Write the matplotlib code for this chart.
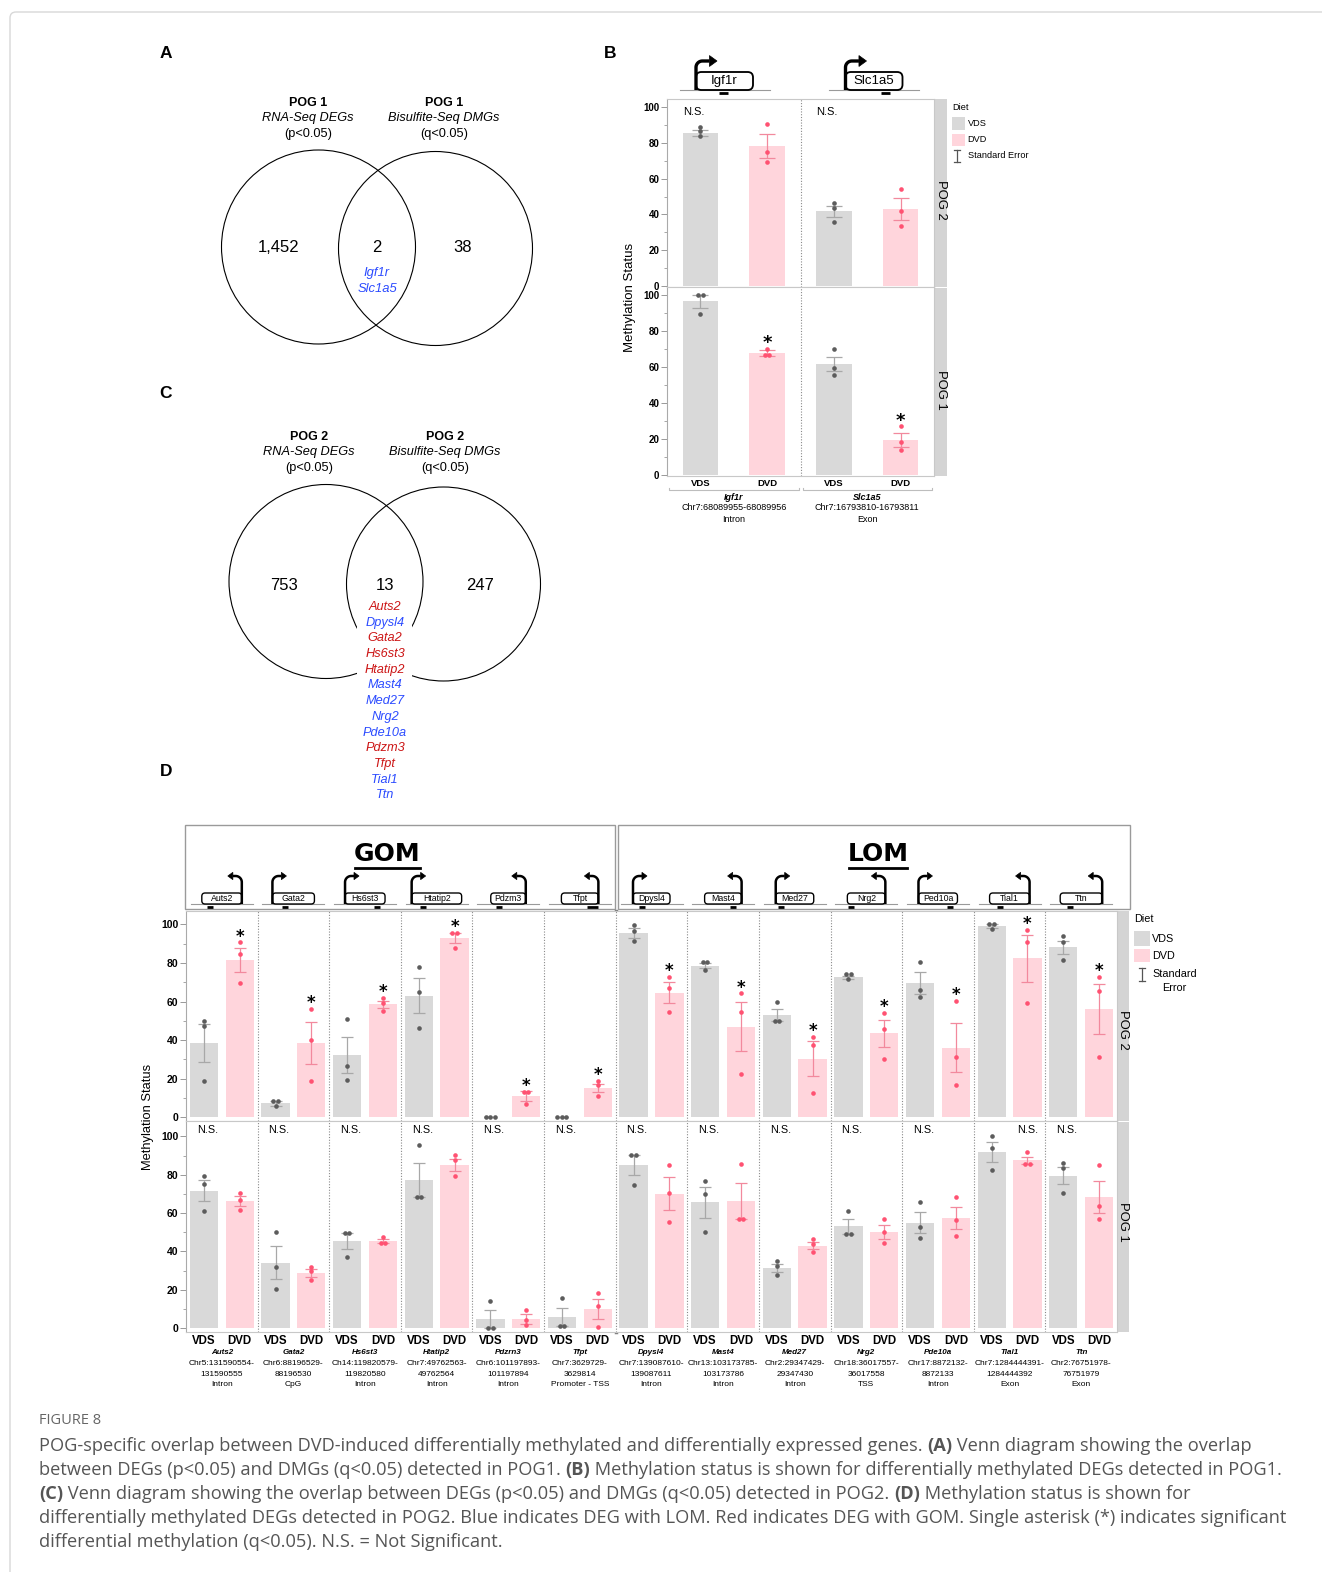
import numpy as np
import matplotlib
matplotlib.use("Agg")
import matplotlib.pyplot as plt
from matplotlib.patches import Circle, Rectangle, FancyBboxPatch, Polygon

plt.rcParams["font.family"] = ["Liberation Sans", "DejaVu Sans"]

W, H = 1322, 1572
GRAY_BAR = "#d9d9d9"
PINK_BAR = "#ffd5dc"
GRAY_PT = "#5c5c5c"
PINK_PT = "#ff5272"
GRAY_SE = "#a8a8a8"
PINK_SE = "#f2899d"
RED = "#cc1515"
BLUE = "#2b4bff"

# ---------------- data ----------------
venn_a_counts = ["1,452", "2", "38"]
venn_a_genes = ["Igf1r", "Slc1a5"]
venn_a_cls = ["LOM", "LOM"]
venn_c_counts = ["753", "13", "247"]
venn_c_genes = ["Auts2", "Dpysl4", "Gata2", "Hs6st3", "Htatip2", "Mast4", "Med27",
                "Nrg2", "Pde10a", "Pdzm3", "Tfpt", "Tial1", "Ttn"]
venn_c_cls = ["GOM", "LOM", "GOM", "GOM", "GOM", "LOM", "LOM",
              "LOM", "LOM", "GOM", "GOM", "LOM", "LOM"]

# panel B (POG1 DEGs)
b_genes = ["Igf1r", "Slc1a5"]
b_loci = ["Chr7:68089955-68089956", "Chr7:16793810-16793811"]
b_regions = ["Intron", "Exon"]
b_pog2_vds = [85.6, 41.8]
b_pog2_vds_se = [1.8, 3.1]
b_pog2_vds_pts = [[88.6, 86.4, 83.8], [46.2, 43.8, 35.9]]
b_pog2_dvd = [78.3, 43.1]
b_pog2_dvd_se = [6.5, 6.1]
b_pog2_dvd_pts = [[90.8, 75.1, 69.4], [54.1, 42.2, 33.5]]
b_pog2_sig = [False, False]
b_pog1_vds = [96.5, 61.7]
b_pog1_vds_se = [3.6, 4.0]
b_pog1_vds_pts = [[100, 100, 89.6], [69.8, 59.7, 55.6]]
b_pog1_dvd = [67.8, 19.7]
b_pog1_dvd_se = [1.5, 3.9]
b_pog1_dvd_pts = [[70.2, 66.7, 66.7], [27.0, 18.4, 13.8]]
b_pog1_sig = [True, True]

# panel D (POG2 DEGs)
d_genes = ["Auts2", "Gata2", "Hs6st3", "Htatip2", "Pdzrn3", "Tfpt",
           "Dpysl4", "Mast4", "Med27", "Nrg2", "Pde10a", "Tial1", "Ttn"]
d_header = ["Auts2", "Gata2", "Hs6st3", "Htatip2", "Pdzm3", "Tfpt",
            "Dpysl4", "Mast4", "Med27", "Nrg2", "Ped10a", "Tial1", "Ttn"]
d_strand = [-1, 1, 1, 1, -1, -1, 1, -1, 1, -1, 1, -1, -1]
d_loci1 = ["Chr5:131590554-", "Chr6:88196529-", "Ch14:119820579-", "Chr7:49762563-",
           "Chr6:101197893-", "Chr7:3629729-", "Chr7:139087610-", "Chr13:103173785-",
           "Chr2:29347429-", "Chr18:36017557-", "Chr17:8872132-", "Chr7:1284444391-",
           "Chr2:76751978-"]
d_loci2 = ["131590555", "88196530", "119820580", "49762564", "101197894", "3629814",
           "139087611", "103173786", "29347430", "36017558", "8872133", "1284444392",
           "76751979"]
d_regions = ["Intron", "CpG", "Intron", "Intron", "Intron", "Promoter - TSS",
             "Intron", "Intron", "Intron", "TSS", "Intron", "Exon", "Exon"]
d_site = [0.2, 0.29, 0.8, 0.22, 0.23, 0.85, 0.24, 0.77, 0.13, 0.09, 0.81, 0.26, 0.24]

d_pog2_vds = [38.4, 7.3, 32.3, 63.0, 0.2, 0.3, 95.8, 78.6, 53.0, 72.5, 69.6, 99.1, 88.2]
d_pog2_vds_se = [10.0, 1.3, 9.5, 9.2, 0, 0, 2.6, 1.2, 3.3, 1.0, 5.5, 1.0, 3.3]
d_pog2_vds_pts = [[50.1, 47.1, 18.8], [8.5, 8.5, 5.6], [51.1, 26.3, 19.5],
                  [77.9, 64.7, 46.3], [0, 0, 0], [0.3, 0.3, 0.3],
                  [99.9, 96.7, 91.3], [80.3, 80.3, 76.2], [59.8, 49.7, 49.7],
                  [74.1, 74.1, 71.7], [80.3, 66.1, 62.6], [100, 100, 97.4],
                  [93.9, 91.1, 81.4]]
d_pog2_dvd = [81.7, 38.4, 58.6, 92.9, 11.0, 15.1, 64.5, 47.0, 30.3, 43.5, 36.0, 82.4, 56.3]
d_pog2_dvd_se = [6.3, 10.9, 1.9, 2.6, 2.4, 2.3, 5.4, 12.9, 9.2, 7.0, 12.7, 12.0, 13.0]
d_pog2_dvd_pts = [[90.8, 84.9, 69.6], [56.3, 40.2, 18.8], [61.9, 59.1, 55.3],
                  [95.7, 95.7, 88.0], [13.2, 13.2, 7.0], [18.8, 16.5, 11.0],
                  [72.7, 67.0, 54.4], [64.2, 54.8, 22.3], [41.6, 37.4, 12.3],
                  [54.3, 45.9, 30.4], [60.2, 31.0, 16.7], [97.2, 91.1, 59.0],
                  [73.0, 65.6, 31.0]]
d_pog2_sig = [True] * 13

d_pog1_vds = [71.7, 34.1, 45.4, 77.2, 4.9, 5.7, 84.9, 65.6, 31.3, 53.1, 55.0, 92.0, 79.5]
d_pog1_vds_se = [5.5, 8.7, 4.2, 8.7, 4.7, 4.8, 5.3, 8.1, 1.9, 3.8, 5.4, 5.3, 4.5]
d_pog1_vds_pts = [[79.5, 75.3, 60.9], [50.3, 32.0, 20.2], [49.8, 49.8, 37.1],
                  [95.3, 68.5, 68.5], [14.4, 0, 0], [15.5, 0.9, 0.9],
                  [90.5, 90.5, 74.5], [76.9, 69.8, 50.3], [34.8, 32.2, 27.8],
                  [61.2, 49.2, 49.2], [65.8, 52.5, 47.1], [100, 93.9, 82.5],
                  [86.1, 83.7, 70.6]]
d_pog1_dvd = [66.3, 28.7, 45.4, 85.2, 4.7, 10.1, 70.1, 66.5, 43.0, 50.3, 57.4, 87.5, 68.5]
d_pog1_dvd_se = [2.5, 2.2, 1.0, 3.2, 2.5, 5.1, 8.7, 9.4, 1.9, 3.7, 5.8, 1.8, 8.4]
d_pog1_dvd_pts = [[70.3, 66.8, 61.8], [32.0, 29.6, 25.2], [47.7, 44.5, 44.5],
                  [90.5, 87.7, 79.5], [9.6, 4.5, 1.9], [18.1, 11.8, 0.5],
                  [85.2, 70.3, 55.1], [85.4, 56.9, 56.9], [46.5, 44.0, 39.5],
                  [56.9, 50.1, 44.2], [68.2, 56.5, 47.8], [91.9, 85.8, 85.8],
                  [84.9, 63.5, 56.9]]
d_pog1_sig = [False] * 13
d_pog1_ns_on = [0, 0, 0, 0, 0, 0, 0, 0, 0, 0, 0, 1, 0]

caption_lines = [
    [("POG-specific overlap between DVD-induced differentially methylated and differentially expressed genes. ", False),
     ("(A)", True), (" Venn diagram showing the overlap", False)],
    [("between DEGs (p<0.05) and DMGs (q<0.05) detected in POG1. ", False), ("(B)", True),
     (" Methylation status is shown for differentially methylated DEGs detected in POG1.", False)],
    [("(C)", True), (" Venn diagram showing the overlap between DEGs (p<0.05) and DMGs (q<0.05) detected in POG2. ", False),
     ("(D)", True), (" Methylation status is shown for", False)],
    [("differentially methylated DEGs detected in POG2. Blue indicates DEG with LOM. Red indicates DEG with GOM. Single asterisk (*) indicates significant", False)],
    [("differential methylation (q<0.05). N.S. = Not Significant.", False)],
]

# ---------------- figure ----------------
fig = plt.figure(figsize=(W / 100, H / 100), dpi=100)
ov = fig.add_axes([0, 0, 1, 1])
ov.set_xlim(0, W)
ov.set_ylim(H, 0)
ov.axis("off")


def px_axes(x0, y0, x1, y1):
    return fig.add_axes([x0 / W, 1 - y1 / H, (x1 - x0) / W, (y1 - y0) / H])


def spread(pts, step):
    pts = list(pts)
    offs = np.zeros(len(pts))
    done = set()
    for i, v in enumerate(pts):
        if i in done:
            continue
        grp = [j for j, w in enumerate(pts) if abs(w - v) < 0.05]
        for k, j in enumerate(grp):
            offs[j] = (k - (len(grp) - 1) / 2) * step
            done.add(j)
    return offs


def draw_row(ax, vds, vse, vpts, dvd, dse, dpts, sig, ns_on, bw, cap, ppu,
             star_fs, ns_fs, ns_y, ns_dx, ylim, tick_fs):
    n = len(vds)
    xv = np.arange(n) * 2.0
    xd = xv + 1
    ax.bar(xv, vds, bw, color=GRAY_BAR, zorder=1)
    ax.bar(xd, dvd, bw, color=PINK_BAR, zorder=1)
    ax.errorbar(xv, vds, yerr=vse, fmt="none", ecolor=GRAY_SE, elinewidth=0.9,
                capsize=cap, capthick=0.9, zorder=2)
    ax.errorbar(xd, dvd, yerr=dse, fmt="none", ecolor=PINK_SE, elinewidth=0.9,
                capsize=cap, capthick=0.9, zorder=2)
    for i in range(n):
        ax.scatter(xv[i] + spread(vpts[i], 4.5 / ppu), vpts[i], s=11, color=GRAY_PT,
                   linewidths=0, zorder=3)
        ax.scatter(xd[i] + spread(dpts[i], 4.5 / ppu), dpts[i], s=11, color=PINK_PT,
                   linewidths=0, zorder=3)
        if sig[i]:
            ax.annotate("*", xy=(xd[i], max(dpts[i])), xytext=(0, 0.5),
                        textcoords="offset points", ha="center", va="baseline",
                        fontsize=star_fs, fontweight="bold", family="DejaVu Sans")
        elif ns_on is not None:
            x = xv[i] + ns_dx if ns_on[i] == 0 else xd[i]
            ax.text(x, ns_y, "N.S.", ha="center", va="center", fontsize=ns_fs)
    for k in range(1, n):
        ax.axvline(2 * k - 0.5, ls=(0, (1, 1.5)), color="#8a8a8a", lw=0.8, zorder=0)
    ax.set_xlim(-0.5, 2 * n - 0.5)
    ax.set_ylim(*ylim)
    ax.set_xticks([])
    ax.set_yticks(range(0, 101, 20))
    ax.set_yticks(range(10, 100, 20), minor=True)
    ax.tick_params(axis="y", which="major", length=4, width=0.7, color="#999999",
                   labelsize=tick_fs, pad=1.5)
    ax.tick_params(axis="y", which="minor", length=2, width=0.6, color="#999999")
    for lab in ax.get_yticklabels():
        lab.set_fontweight("bold")
    for s in ax.spines.values():
        s.set_color("#c8c8c8")
        s.set_linewidth(0.8)
    ax.spines["left"].set_color("#aaaaaa")


def gene_icon(xc, yb, name, strand, site, bw, bh, rise, arm, base_w, fs, lw, dash_w):
    x0 = xc - bw / 2
    x1 = xc + bw / 2
    ov.plot([xc - base_w / 2, xc + base_w / 2], [yb, yb], color="#9a9a9a", lw=0.8, zorder=2)
    ov.add_patch(FancyBboxPatch((x0, yb - bh), bw, bh,
                                boxstyle="round,pad=0,rounding_size=%g" % (bh * 0.3),
                                fc="white", ec="black", lw=lw * 0.55, zorder=3))
    ov.text(xc, yb - bh / 2, name, ha="center", va="center", fontsize=fs, zorder=4)
    xa = x0 if strand > 0 else x1
    r = rise * 0.22
    yt = yb - rise
    hl, hw = arm * 0.36, arm * 0.26
    t = np.linspace(0, np.pi / 2, 12)
    cx, cy = xa + strand * r, yt + r
    px = np.concatenate([[xa, xa], cx - strand * r * np.cos(t), [xa + strand * (arm - hl)]])
    py = np.concatenate([[yb, yt + r], cy - r * np.sin(t), [yt]])
    ov.plot(px, py, color="black", lw=lw, solid_capstyle="butt", zorder=5)
    ov.add_patch(Polygon([[xa + strand * arm, yt], [xa + strand * (arm - hl), yt - hw],
                          [xa + strand * (arm - hl), yt + hw]], closed=True,
                         fc="black", ec="black", lw=0.5, zorder=5))
    sx = x0 + site * bw
    ov.plot([sx - dash_w / 2, sx + dash_w / 2], [yb + 3, yb + 3], color="black", lw=2,
            solid_capstyle="butt", zorder=5)


# frame
ov.add_patch(FancyBboxPatch((10, 12), W, H, boxstyle="round,pad=0,rounding_size=6",
                            fc="none", ec="#d8d8d8", lw=1))

# panel letters
for lab, x, y in [("A", 166, 54), ("B", 610, 54), ("C", 166, 393), ("D", 166, 771)]:
    ov.text(x, y, lab, ha="center", va="center", fontsize=12.5, fontweight="bold")


# ---------------- Venn diagrams ----------------
def venn(c1, c2, r, ty, tx, pog):
    for c in (c1, c2):
        ov.add_patch(Circle(c, r, fill=False, ec="black", lw=0.8, zorder=1))
    for x, sub, p in [(tx[0], "RNA-Seq DEGs", "(p<0.05)"),
                      (tx[1], "Bisulfite-Seq DMGs", "(q<0.05)")]:
        ov.text(x, ty, pog, ha="center", va="center", fontsize=9, fontweight="bold")
        ov.text(x, ty + 16, sub, ha="center", va="center", fontsize=9.2, style="italic")
        ov.text(x, ty + 32, p, ha="center", va="center", fontsize=9.2)


venn((318.5, 247), (435.5, 248.5), 97, 102.5, (308, 444), "POG 1")
for x, s in zip([279, 377, 463], venn_a_counts):
    ov.text(x, 248, s, ha="center", va="center", fontsize=12)
for i, g in enumerate(venn_a_genes):
    ov.text(377, 273 + 15.5 * i, g, ha="center", va="center", fontsize=9.4, style="italic",
            color=BLUE if venn_a_cls[i] == "LOM" else RED)

venn((326, 581.5), (443.5, 584), 97, 436.5, (309, 445), "POG 2")
for x, s in zip([284, 385, 480], venn_c_counts):
    ov.text(x, 585, s, ha="center", va="center", fontsize=12)
ov.add_patch(Rectangle((357, 598), 55, 205, fc="white", ec="none", zorder=2))
for i, g in enumerate(venn_c_genes):
    ov.text(385, 607 + 15.7 * i, g, ha="center", va="center", fontsize=9.2, style="italic",
            color=BLUE if venn_c_cls[i] == "LOM" else RED, zorder=3)

# ---------------- panel B ----------------
BX0, BX1 = 667, 934
b_top = px_axes(BX0, 99, BX1, 287)
b_bot = px_axes(BX0, 287, BX1, 476)
b_ppu = (BX1 - BX0) / 4
draw_row(b_top, b_pog2_vds, b_pog2_vds_se, b_pog2_vds_pts, b_pog2_dvd, b_pog2_dvd_se,
         b_pog2_dvd_pts, b_pog2_sig, [0, 0], 0.53, 6, b_ppu, 13, 8, 97.5, -0.1,
         (-0.5, 104.5), 7)
draw_row(b_bot, b_pog1_vds, b_pog1_vds_se, b_pog1_vds_pts, b_pog1_dvd, b_pog1_dvd_se,
         b_pog1_dvd_pts, b_pog1_sig, None, 0.53, 6, b_ppu, 13, 8, 97.5, -0.1,
         (-0.5, 104.5), 7)
for y0, y1, lab, yc in [(99, 286.5, "POG 2", 200), (287.5, 476, "POG 1", 390)]:
    ov.add_patch(Rectangle((BX1, y0), 13, y1 - y0, fc="#d4d4d4", ec="none"))
    ov.text(BX1 + 6.5, yc, lab, ha="center", va="center", rotation=-90, fontsize=9.4)
ov.text(630, 297, "Methylation Status", ha="center", va="center", rotation=90, fontsize=9.5)
for i, g in enumerate(b_genes):
    for j, lab in enumerate(["VDS", "DVD"]):
        ov.text(BX0 + (2 * i + j + 0.5) * b_ppu, 484, lab, ha="center", va="center",
                fontsize=6.8, fontweight="bold")
    xc = BX0 + (2 * i + 1) * b_ppu
    xa, xb = BX0 + 2 * i * b_ppu + 2, BX0 + (2 * i + 2) * b_ppu - 2
    ov.plot([xa, xa, xb, xb], [488, 490, 490, 488], color="#bdbdbd", lw=0.8)
    ov.text(xc, 497, g, ha="center", va="center", fontsize=6.5, fontweight="bold", style="italic")
    ov.text(xc, 508, b_loci[i], ha="center", va="center", fontsize=6.5)
    ov.text(xc, 519, b_regions[i], ha="center", va="center", fontsize=6.5)
for xc, g, site in [(724.5, "Igf1r", 0.48), (874, "Slc1a5", 0.71)]:
    gene_icon(xc, 90, g, 1, site, 57, 18, 29, 21, 90, 9.5, 2.4, 9)
# legend B
ov.text(952, 108, "Diet", ha="left", va="center", fontsize=6.6)
ov.add_patch(Rectangle((952, 117), 13, 13, fc=GRAY_BAR, ec="none"))
ov.text(967.5, 124, "VDS", ha="left", va="center", fontsize=6.6)
ov.add_patch(Rectangle((952, 134), 13, 12, fc=PINK_BAR, ec="none"))
ov.text(967.5, 140, "DVD", ha="left", va="center", fontsize=6.6)
ov.plot([956.5, 956.5], [150, 162], color="#555555", lw=0.9)
ov.plot([953.5, 959.5], [150, 150], color="#555555", lw=0.9)
ov.plot([953.5, 959.5], [162, 162], color="#555555", lw=0.9)
ov.text(967.5, 156, "Standard Error", ha="left", va="center", fontsize=6.6)

# ---------------- panel D ----------------
DX0, DX1 = 186, 1117
d_top = px_axes(DX0, 911, DX1, 1121)
d_bot = px_axes(DX0, 1121, DX1, 1332)
n_d = len(d_genes)
d_ppu = (DX1 - DX0) / (2 * n_d)
draw_row(d_top, d_pog2_vds, d_pog2_vds_se, d_pog2_vds_pts, d_pog2_dvd, d_pog2_dvd_se,
         d_pog2_dvd_pts, d_pog2_sig, None, 0.79, 4, d_ppu, 12, 7.8, 103.3, 0.1,
         (-2, 107), 7.5)
draw_row(d_bot, d_pog1_vds, d_pog1_vds_se, d_pog1_vds_pts, d_pog1_dvd, d_pog1_dvd_se,
         d_pog1_dvd_pts, d_pog1_sig, d_pog1_ns_on, 0.79, 4, d_ppu, 12, 7.8, 103.3, 0.1,
         (-2, 108), 7.5)
gx = DX0 + 12 * d_ppu
ov.plot([gx, gx], [911, 1332], color="#808080", lw=2.5, zorder=5)
for y0, y1, lab, yc in [(911, 1120.5, "POG 2", 1030), (1121.5, 1332, "POG 1", 1222)]:
    ov.add_patch(Rectangle((DX1, y0), 12, y1 - y0, fc="#d4d4d4", ec="none"))
    ov.text(DX1 + 6, yc, lab, ha="center", va="center", rotation=-90, fontsize=9.4)
ov.text(148, 1117, "Methylation Status", ha="center", va="center", rotation=90, fontsize=9.3)

# header boxes
ov.add_patch(Rectangle((185, 825), 430, 84, fc="none", ec="#9a9a9a", lw=1))
ov.add_patch(Rectangle((618, 825), 512, 84, fc="none", ec="#9a9a9a", lw=1))
for x, lab, ux in [(387.5, "GOM", (355, 420)), (878, "LOM", (849, 907))]:
    ov.text(x, 854, lab, ha="center", va="center", fontsize=18, fontweight="bold",
            family="DejaVu Sans")
    ov.plot(ux, [868, 868], color="black", lw=2)
d_icon_w = [40, 42, 40, 50, 35, 37, 37, 37, 38, 38, 39, 40, 42]
for i, g in enumerate(d_header):
    xc = DX0 + (2 * i + 1) * d_ppu
    gene_icon(xc, 904, g, d_strand[i], d_site[i], d_icon_w[i], 11, 28, 14, 62, 6.3, 1.8,
              11 if g == "Tfpt" else 6)

for i, g in enumerate(d_genes):
    for j, lab in enumerate(["VDS", "DVD"]):
        ov.text(DX0 + (2 * i + j + 0.5) * d_ppu, 1341.5, lab, ha="center", va="center",
                fontsize=8.3, fontweight="bold")
    xc = DX0 + (2 * i + 1) * d_ppu
    ov.text(xc, 1353, g, ha="center", va="center", fontsize=5.8, fontweight="bold", style="italic")
    ov.text(xc, 1363.5, d_loci1[i], ha="center", va="center", fontsize=6)
    ov.text(xc, 1374, d_loci2[i], ha="center", va="center", fontsize=6)
    ov.text(xc, 1385, d_regions[i], ha="center", va="center", fontsize=6)

# legend D
ov.text(1134, 919, "Diet", ha="left", va="center", fontsize=7.8)
ov.add_patch(Rectangle((1134, 931), 16, 15, fc=GRAY_BAR, ec="none"))
ov.text(1152, 939, "VDS", ha="left", va="center", fontsize=7.8)
ov.add_patch(Rectangle((1134, 949), 16, 13, fc=PINK_BAR, ec="none"))
ov.text(1152, 956, "DVD", ha="left", va="center", fontsize=7.8)
ov.plot([1142, 1142], [968, 981], color="#555555", lw=0.9)
ov.plot([1139, 1145], [968, 968], color="#555555", lw=0.9)
ov.plot([1139, 1145], [981, 981], color="#555555", lw=0.9)
ov.text(1152, 974, "Standard", ha="left", va="center", fontsize=7.8)
ov.text(1162, 988, "Error", ha="left", va="center", fontsize=7.8)

# ---------------- caption ----------------
ov.text(39, 1421, "FIGURE 8", ha="left", va="center", fontsize=10.5, color="#666666",
        family="Open Sans")
renderer = fig.canvas.get_renderer()


def text_w(s, fs, bold):
    t = ov.text(0, 0, s + "|", fontsize=fs, fontweight="bold" if bold else "normal",
                family="Open Sans")
    t2 = ov.text(0, 0, "|", fontsize=fs, fontweight="bold" if bold else "normal",
                 family="Open Sans")
    w = t.get_window_extent(renderer).width - t2.get_window_extent(renderer).width
    t.remove()
    t2.remove()
    return w


# font size so the second (full) line spans the same width as in the reference
w10 = sum(text_w(s, 10, b) for s, b in caption_lines[1])
cap_fs = 10 * (1287 - 39) / w10
for k, parts in enumerate(caption_lines):
    x = 39
    y = 1446 + 24 * k
    for s, bold in parts:
        ov.text(x, y, s, ha="left", va="center", fontsize=cap_fs, color="#555555",
                fontweight="bold" if bold else "normal", family="Open Sans")
        x += text_w(s, cap_fs, bold)

fig.savefig("out.png", dpi=100)
